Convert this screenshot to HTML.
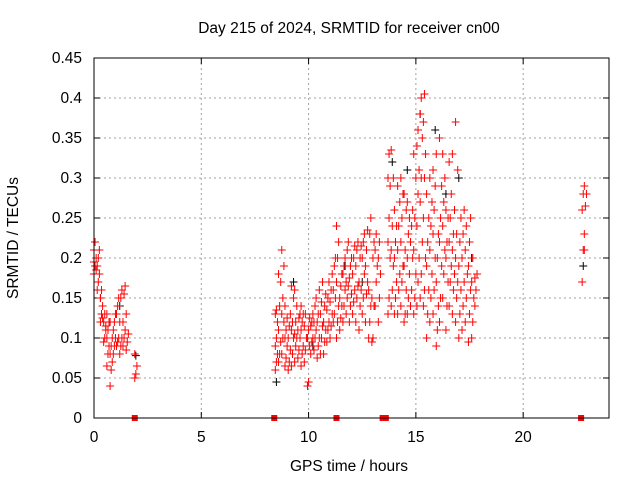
<!DOCTYPE html>
<html><head><meta charset="utf-8"><style>
body{margin:0;background:#fff;}
svg text{font-family:"Liberation Sans",sans-serif;font-size:15.5px;fill:#000;}
</style></head><body>
<svg id="chart" width="640" height="480" xmlns="http://www.w3.org/2000/svg">
<text x="349" y="33" text-anchor="middle">Day 215 of 2024, SRMTID for receiver cn00</text>
<text x="349" y="471" text-anchor="middle">GPS time / hours</text>
<text transform="translate(18,238) rotate(-90)" text-anchor="middle">SRMTID / TECUs</text>
<g id="grid"></g>
<g id="marks"></g>
<rect x="94" y="58" width="515" height="360" fill="none" stroke="#000" stroke-width="1"/>
</svg>
<script>
const xTicks=[0,5,10,15,20];
const yTicks=[0,0.05,0.1,0.15,0.2,0.25,0.3,0.35,0.4,0.45];
const yTickLabels=["0","0.05","0.1","0.15","0.2","0.25","0.3","0.35","0.4","0.45"];
const streakTimes=[0.05,0.2,0.35,0.5,0.65,0.8,0.95,1.1,1.25,1.4,1.55,1.95,
8.5,8.65,8.8,8.95,9.1,9.25,9.4,9.55,9.7,9.85,10.0,10.15,10.3,10.45,10.6,10.75,10.9,11.05,11.2,11.35,11.5,11.65,11.8,11.95,12.1,12.25,12.4,12.55,12.7,12.85,13.0,13.15,13.3,
13.75,13.9,14.05,14.2,14.35,14.5,14.65,14.8,14.95,15.1,15.25,15.4,15.55,15.7,15.85,16.0,16.15,16.3,16.45,16.6,16.75,16.9,17.05,17.2,17.35,17.5,17.65,17.8,22.8,22.9];
const streakValues=[
[0.18,0.19,0.2,0.21,0.22,0.185,0.195],
[0.16,0.17,0.18,0.19,0.2,0.21],
[0.12,0.13,0.14,0.15,0.16,0.125],
[0.095,0.1,0.11,0.12,0.13,0.115],
[0.065,0.08,0.09,0.1,0.11,0.12,0.13],
[0.04,0.06,0.07,0.08,0.09,0.1,0.12],
[0.08,0.09,0.1,0.11,0.12,0.13],
[0.09,0.095,0.1,0.13,0.14,0.15],
[0.08,0.09,0.1,0.12,0.15,0.16],
[0.09,0.1,0.11,0.12,0.155,0.165],
[0.085,0.095,0.105,0.13],
[0.05,0.055,0.065,0.08],
[0.06,0.07,0.08,0.09,0.1,0.12,0.13,0.135],
[0.07,0.08,0.095,0.11,0.14,0.17,0.18],
[0.08,0.1,0.12,0.13,0.15,0.19,0.21],
[0.065,0.075,0.09,0.1,0.11,0.125,0.14],
[0.06,0.07,0.085,0.1,0.115,0.13],
[0.065,0.08,0.1,0.11,0.12,0.15,0.165],
[0.07,0.09,0.1,0.105,0.12,0.14,0.16],
[0.075,0.085,0.1,0.11,0.125,0.13],
[0.065,0.08,0.09,0.11,0.12,0.13,0.14],
[0.07,0.085,0.1,0.115,0.13],
[0.04,0.045,0.09,0.1,0.11,0.125],
[0.08,0.095,0.1,0.115,0.12,0.13],
[0.085,0.1,0.11,0.12,0.14,0.15],
[0.075,0.09,0.1,0.12,0.13,0.16],
[0.08,0.1,0.115,0.13,0.145,0.17],
[0.08,0.095,0.11,0.12,0.14,0.155],
[0.095,0.11,0.12,0.135,0.15,0.17],
[0.1,0.115,0.13,0.145,0.16,0.18],
[0.12,0.13,0.15,0.16,0.19,0.2],
[0.1,0.12,0.14,0.17,0.2,0.22,0.24],
[0.11,0.125,0.14,0.15,0.165,0.18],
[0.12,0.14,0.16,0.18,0.19,0.2],
[0.13,0.15,0.165,0.17,0.21,0.22],
[0.12,0.14,0.155,0.175,0.19,0.2],
[0.13,0.145,0.16,0.18,0.2,0.215],
[0.12,0.15,0.165,0.19,0.21,0.22],
[0.11,0.14,0.16,0.17,0.2,0.215],
[0.13,0.15,0.18,0.2,0.22,0.23],
[0.12,0.155,0.17,0.19,0.21,0.235],
[0.1,0.12,0.14,0.16,0.23,0.25],
[0.095,0.1,0.14,0.15,0.2,0.22],
[0.14,0.17,0.19,0.21,0.23],
[0.12,0.15,0.18,0.2,0.22],
[0.13,0.15,0.2,0.22,0.25,0.29,0.3,0.33],
[0.14,0.16,0.19,0.21,0.24,0.3,0.335],
[0.13,0.15,0.17,0.2,0.22,0.24,0.26],
[0.13,0.16,0.18,0.21,0.24,0.27,0.29],
[0.14,0.17,0.19,0.22,0.25,0.28,0.3],
[0.12,0.13,0.16,0.19,0.21,0.26,0.28],
[0.13,0.15,0.18,0.2,0.23,0.25,0.27],
[0.14,0.16,0.2,0.22,0.24,0.26],
[0.13,0.15,0.18,0.21,0.25,0.3,0.33],
[0.14,0.17,0.2,0.24,0.28,0.31,0.34,0.36],
[0.15,0.18,0.22,0.27,0.3,0.35,0.38,0.4],
[0.14,0.16,0.2,0.25,0.3,0.33,0.37,0.405],
[0.1,0.13,0.16,0.19,0.22,0.25,0.28],
[0.12,0.15,0.18,0.21,0.24,0.27,0.3],
[0.13,0.16,0.2,0.23,0.26,0.29,0.31],
[0.09,0.11,0.14,0.17,0.2,0.23,0.33],
[0.12,0.15,0.19,0.22,0.25,0.29,0.35],
[0.15,0.18,0.21,0.24,0.27,0.3,0.33],
[0.11,0.14,0.17,0.2,0.22,0.25,0.26],
[0.14,0.17,0.19,0.22,0.25,0.28,0.32],
[0.13,0.16,0.18,0.21,0.23,0.26,0.33],
[0.12,0.15,0.17,0.2,0.23,0.31,0.37],
[0.1,0.13,0.16,0.19,0.22,0.25],
[0.11,0.14,0.17,0.2,0.23,0.26],
[0.12,0.15,0.18,0.21,0.24],
[0.095,0.13,0.16,0.19,0.22,0.25],
[0.1,0.12,0.15,0.17,0.2],
[0.14,0.16,0.18,0.175],
[0.17,0.21,0.23,0.26,0.28],
[0.21,0.265,0.28,0.29]];
const blackTimes=[0.3,1.2,1.95,8.5,9.3,10.2,11.7,12.5,13.9,14.6,15.2,15.9,16.4,17.0,17.6,22.8];
const blackValues=[0.15,0.14,0.078,0.045,0.17,0.09,0.19,0.17,0.32,0.31,0.38,0.36,0.28,0.3,0.2,0.19];
const squareTimes=[1.9,8.4,11.3,13.45,13.6,22.7];

const X=t=>94+t*(515/24);
const Y=v=>418-v*800;
const NS="http://www.w3.org/2000/svg";
const grid=document.getElementById('grid'), marks=document.getElementById('marks');
function mk(tag,attrs,parent){const e=document.createElementNS(NS,tag);for(const k in attrs)e.setAttribute(k,attrs[k]);parent.appendChild(e);return e;}
xTicks.forEach(t=>{
  const x=X(t);
  if(t>0){const g=mk('line',{x1:x,y1:58,x2:x,y2:418,stroke:'#a0a0a0','stroke-dasharray':'2,3'},grid);
  
  }
  mk('line',{x1:x,y1:418,x2:x,y2:412,stroke:'#000'},grid);
  mk('line',{x1:x,y1:58,x2:x,y2:64,stroke:'#000'},grid);
  const l=mk('text',{x:x,y:442,'text-anchor':'middle'},grid);l.textContent=t;
  
  
});
yTicks.forEach((v,i)=>{
  const y=Y(v);
  if(i>0&&i<yTicks.length-1){const g=mk('line',{x1:94,y1:y,x2:609,y2:y,stroke:'#a0a0a0','stroke-dasharray':'2,3'},grid);
  
  }
  mk('line',{x1:94,y1:y,x2:100,y2:y,stroke:'#000'},grid);
  mk('line',{x1:609,y1:y,x2:603,y2:y,stroke:'#000'},grid);
  const l=mk('text',{x:82,y:y+5,'text-anchor':'end'},grid);l.textContent=yTickLabels[i];
  
  
});
function plus(t,v,c){const x=X(t),y=Y(v);
  const p=mk('path',{d:`M${x-4},${y}h8M${x},${y-4}v8`,stroke:c,'stroke-width':1,fill:'none'},marks);
  
  }
blackTimes.forEach((t,i)=>plus(t,blackValues[i],'#000'));
streakTimes.forEach((t,i)=>streakValues[i].forEach((v,j)=>plus(t+((j%3)-1)*0.05,v,'#f00')));
squareTimes.forEach(t=>{const s=mk('rect',{x:X(t)-3,y:415,width:6,height:6,fill:'#f00'},marks);
  
  });
</script>
</body></html>
